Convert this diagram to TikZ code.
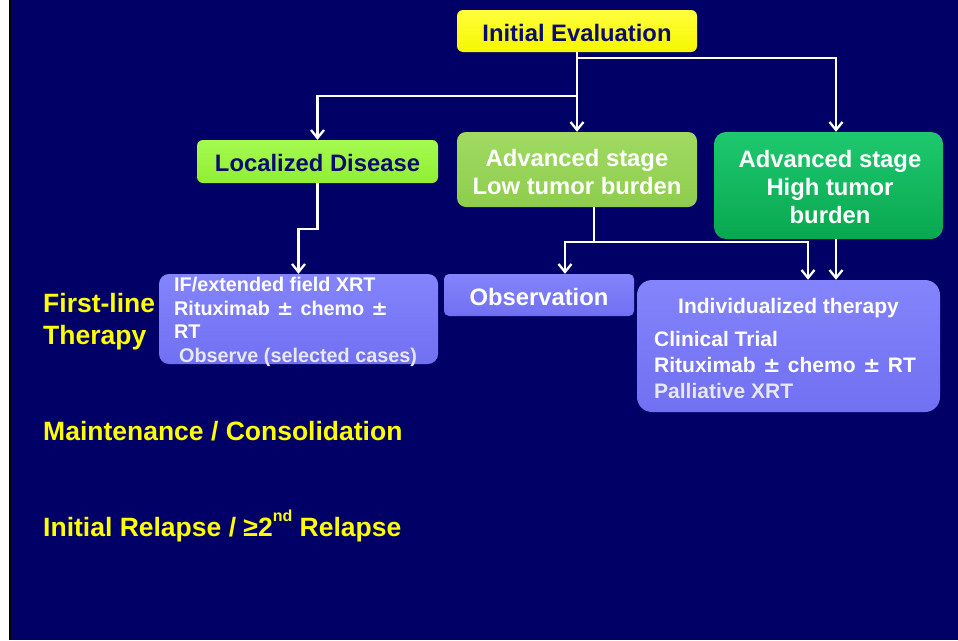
\documentclass[tikz,border=0pt]{standalone}
\usepackage{fontspec}
\setmainfont{Liberation Sans}
\newfontfamily\symfont{DejaVu Sans}
\usetikzlibrary{arrows.meta}
\newcommand\fsz[1]{\fontsize{#1}{#1}\selectfont\bfseries}
\newcommand\plmin{\hspace{1.5pt}{\symfont\bfseries ±}\hspace{1.5pt}}
\definecolor{bgnavy}{RGB}{0,0,102}
\definecolor{inknavy}{RGB}{12,12,110}
\definecolor{yelTop}{RGB}{255,255,60}
\definecolor{yelBot}{RGB}{246,246,0}
\definecolor{limeTop}{RGB}{165,250,80}
\definecolor{limeBot}{RGB}{145,238,50}
\definecolor{oliveTop}{RGB}{160,218,98}
\definecolor{oliveBot}{RGB}{142,205,78}
\definecolor{greenTop}{RGB}{30,200,110}
\definecolor{greenBot}{RGB}{8,168,80}
\definecolor{periTop}{RGB}{132,132,252}
\definecolor{periBot}{RGB}{112,112,242}
\definecolor{softwhite}{RGB}{232,232,242}
\definecolor{labelyellow}{RGB}{255,255,0}
\tikzset{
  box/.style={rectangle, inner sep=0pt, draw=none},
  yelbox/.style={box, top color=yelTop, bottom color=yelBot, rounded corners=6pt},
  limebox/.style={box, top color=limeTop, bottom color=limeBot, rounded corners=6pt},
  olivebox/.style={box, top color=oliveTop, bottom color=oliveBot, rounded corners=9pt},
  greenbox/.style={box, top color=greenTop, bottom color=greenBot, rounded corners=12pt},
  peribox/.style={box, top color=periTop, bottom color=periBot},
  darktxt/.style={inner sep=0pt, text=inknavy, font=\fsz{23.8}},
  whitetxt/.style={inner sep=0pt, text=white, font=\fsz{23.8}},
  smalltxt/.style={inner sep=0pt, text=white, font=\fsz{19.8}},
  midtxt/.style={inner sep=0pt, text=white, font=\fsz{21}},
  sidelabel/.style={inner sep=0pt, text=labelyellow, font=\fsz{26.5}, anchor=base west},
  wire/.style={draw=white, line width=2.3pt},
  conn/.style={wire, -{Straight Barb[length=8pt,width=13pt,line width=2.3pt]}},
}
\begin{document}
\begin{tikzpicture}[x=1pt,y=-1pt]
  % page and slide background
  \useasboundingbox (0,0) rectangle (958,640);
  \fill[white] (0,0) rectangle (958,640);
  \fill[black] (9,0) rectangle (11,640);
  \fill[bgnavy] (11,0) rectangle (958,640);

  % boxes
  \node[yelbox, minimum width=240pt, minimum height=42pt] (ie) at (577,31) {};
  \node[limebox, minimum width=241pt, minimum height=43pt] (loc) at (317.5,161.5) {};
  \node[olivebox, minimum width=240pt, minimum height=75pt] (low) at (577,169.5) {};
  \node[greenbox, minimum width=229pt, minimum height=107pt] (high) at (828.5,185.5) {};
  \node[peribox, rounded corners=10pt, minimum width=279pt, minimum height=90pt] (fl) at (298.5,319) {};
  \node[peribox, rounded corners=5pt, minimum width=190pt, minimum height=42pt] (obs) at (539,295) {};
  \node[peribox, rounded corners=15pt, minimum width=303pt, minimum height=132pt] (ind) at (788.5,346) {};

  % box texts
  \node[darktxt, anchor=base] (tie) at (577,41) {Initial Evaluation};
  \node[darktxt, anchor=base] (tloc) at (317.5,171) {Localized Disease};
  \node[whitetxt, anchor=base] (tlow1) at (577,166) {Advanced stage};
  \node[whitetxt, anchor=base] (tlow2) at (577,194) {Low tumor burden};
  \node[whitetxt, anchor=base] (thi1) at (830,167) {Advanced stage};
  \node[whitetxt, anchor=base] (thi2) at (830,195) {High tumor};
  \node[whitetxt, anchor=base] (thi3) at (830,223) {burden};
  \node[smalltxt, anchor=base west] (tfl1) at (174,291) {IF/extended field XRT};
  \node[smalltxt, anchor=base west] (tfl2) at (174,315) {Rituximab \plmin{} chemo \plmin};
  \node[smalltxt, anchor=base west] (tfl3) at (174,338) {RT};
  \node[smalltxt, anchor=base west, text=softwhite] (tfl4) at (179,362) {Observe (selected cases)};
  \node[whitetxt, anchor=base] (tobs) at (539,305) {Observation};
  \node[midtxt, anchor=base] (tind0) at (788.5,313) {Individualized therapy};
  \node[midtxt, anchor=base west] (tind1) at (654,346) {Clinical Trial};
  \node[midtxt, anchor=base west] (tind2) at (654,372) {Rituximab \plmin{} chemo \plmin{} RT};
  \node[midtxt, anchor=base west, text=softwhite] (tind3) at (654,398) {Palliative XRT};

  % phase labels
  \node[sidelabel] (lab1) at (43,312) {First-line};
  \node[sidelabel] (lab2) at (43,344) {Therapy};
  \node[sidelabel] (lab3) at (43,440) {Maintenance / Consolidation};
  \node[sidelabel] (lab4) at (43,536) {Initial Relapse / ≥2\raisebox{0.55em}{\fontsize{16}{16}\selectfont\bfseries nd} Relapse};

  % junction points
  \coordinate (jL) at (577,96);
  \coordinate (jR) at (577,58);
  \coordinate (jRR) at (836,58);
  \coordinate (a2) at (298.5,229);
  \coordinate (bx) at (594,0);
  \coordinate (b1) at (594,242);
  \coordinate (bL) at (565,242);
  \coordinate (bR) at (808,242);

  % connectors
  \draw[conn] (ie.south) -- (low.north);
  \draw[conn] (jL) -| (loc.north);
  \draw[conn] (jR) -- (jRR) -- (jRR |- high.north);
  \draw[conn] (loc.south) |- (a2) -- (fl.north);
  \draw[wire] (low.south -| bx) -- (b1);
  \draw[conn] (b1) -- (bL) -- (bL |- obs.north);
  \draw[conn] (b1) -- (bR) -- (bR |- ind.north);
  \draw[conn] (high.south -| jRR) -- (jRR |- ind.north);
\end{tikzpicture}
\end{document}
